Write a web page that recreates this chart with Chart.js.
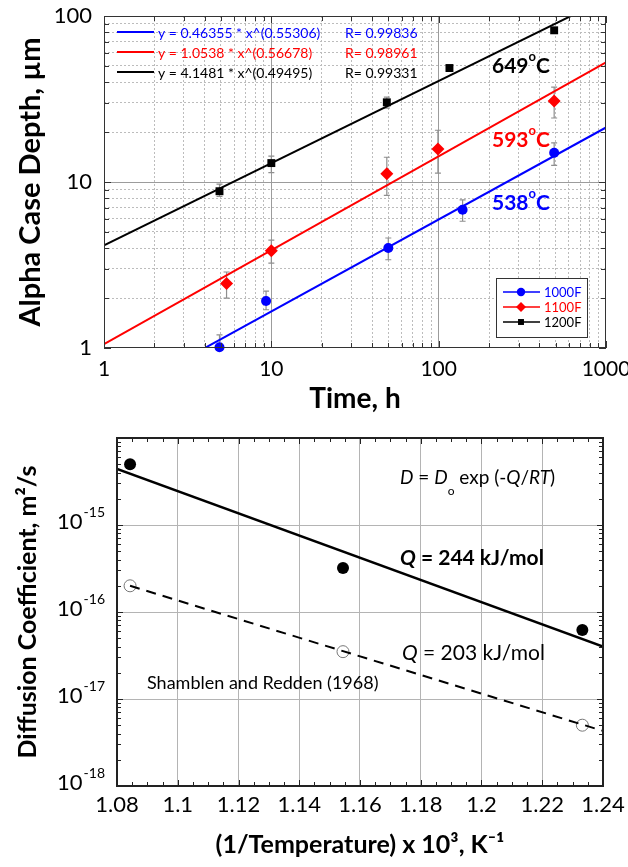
<!DOCTYPE html>
<html>
<head>
<meta charset="utf-8">
<title>Alpha case depth and diffusion coefficient</title>
<script src="https://cdn.jsdelivr.net/npm/chart.js@4.4.1/dist/chart.umd.min.js"></script>
<style>
  body { margin: 0; background: #fff; }
  canvas { display: block; }
</style>
</head>
<body>
<canvas id="depth-chart" width="628" height="420"></canvas>
<canvas id="diff-chart" width="628" height="447"></canvas>
<script>
// ---- top chart: alpha case depth (um) vs time (h)
var seriesNames = ['1000F', '1100F', '1200F'];
var tempNames = ['538', '593', '649'];
var seriesColors = ['#0000ff', '#ff0000', '#000000'];

var time1000 = [4.9, 9.3, 50, 139, 490];
var depth1000 = [1.01, 1.92, 4.0, 6.8, 15.0];
var hi1000 = [1.2, 2.2, 4.6, 7.8, 17.2];
var lo1000 = [0.85, 1.7, 3.4, 5.8, 12.6];

var time1100 = [5.4, 10, 49, 99, 490];
var depth1100 = [2.45, 3.85, 11.2, 15.8, 30.8];
var hi1100 = [2.87, 4.47, 14.1, 20.5, 37.3];
var lo1100 = [2.0, 3.25, 8.3, 11.3, 24.3];

var time1200 = [4.9, 10, 49, 116, 490];
var depth1200 = [8.8, 13.0, 30.2, 48.6, 82];
var hi1200 = [9.7, 14.3, 32.5, null, null];
var lo1200 = [8.2, 11.4, 27.9, null, null];

var fitTime = [1, 1000];
var fit1000 = [0.4636, 21.3];
var fit1100 = [1.054, 52.6];
var fit1200 = [4.148, 127];
var fitEquations = ['y = 0.46355 * x^(0.55306)', 'y = 1.0538 * x^(0.56678)', 'y = 4.1481 * x^(0.49495)'];
var fitR = ['R= 0.99836', 'R= 0.98961', 'R= 0.99331'];

var timeTickValues = [1, 10, 100, 1000];
var timeTickLabels = ['1', '10', '100', '1000'];
var depthTickValues = [1, 10, 100];
var depthTickLabels = ['1', '10', '100'];

// ---- bottom chart: diffusion coefficient vs 1000/T
var invTemp = [1.0843, 1.1544, 1.2332];
var diffThisWork = [5.0e-15, 3.2e-16, 6.2e-17];
var diffShamblen = [2.0e-16, 3.5e-17, 5.0e-18];
var fitThisX = [1.08, 1.24];
var fitThisY = [4.4e-15, 4.0e-17];
var fitShamX = [1.0843, 1.24];
var fitShamY = [2.0e-16, 4.3e-18];

var invTickValues = [1.08, 1.1, 1.12, 1.14, 1.16, 1.18, 1.2, 1.22, 1.24];
var invTickLabels = ['1.08', '1.1', '1.12', '1.14', '1.16', '1.18', '1.2', '1.22', '1.24'];
var diffTickValues = [1e-18, 1e-17, 1e-16, 1e-15];
var diffTickExps = ['-18', '-17', '-16', '-15'];

var FONT = "Lato, 'Open Sans', sans-serif";
Chart.defaults.font.family = FONT;
Chart.defaults.color = '#000';

function pts(xs, ys) {
  return xs.map(function (x, i) { return { x: x, y: ys[i] }; });
}
function near(a, b) { return Math.abs(a - b) < Math.abs(b) * 1e-6; }
function isDecade(v) {
  var l = Math.log10(v);
  return Math.abs(l - Math.round(l)) < 1e-6;
}
function labelFor(values, labels, v) {
  for (var i = 0; i < values.length; i++) if (near(v, values[i])) return labels[i];
  return '';
}
function logTicks(min, max) {
  var out = [];
  var e0 = Math.round(Math.log10(min)), e1 = Math.round(Math.log10(max));
  for (var e = e0; e < e1; e++) {
    for (var m = 1; m < 10; m++) out.push({ value: m * Math.pow(10, e) });
  }
  out.push({ value: max });
  return out;
}
function linTicks(min, max, step) {
  var out = [];
  var n = Math.round((max - min) / step);
  for (var i = 0; i <= n; i++) out.push({ value: +(min + i * step).toFixed(4) });
  return out;
}
function gridColor(major, minor, isMajor) {
  return function (c) {
    if (!c.tick) return 'rgba(0,0,0,0)';
    var n = c.scale.ticks.length;
    if (c.index === 0 || c.index === n - 1) return 'rgba(0,0,0,0)';
    return isMajor(c.tick.value) ? major : minor;
  };
}
function inwardTicks(chart, len, color, isMajX, isMajY) {
  var a = chart.chartArea, ctx = chart.ctx;
  var xs = chart.scales.x, ys = chart.scales.y;
  ctx.save();
  ctx.strokeStyle = color;
  ctx.lineWidth = 1;
  ctx.beginPath();
  xs.ticks.forEach(function (t) {
    var p = Math.round(xs.getPixelForValue(t.value)) + 0.5;
    var l = isMajX(t.value) ? len + 2 : len;
    ctx.moveTo(p, a.bottom); ctx.lineTo(p, a.bottom - l);
    ctx.moveTo(p, a.top); ctx.lineTo(p, a.top + l);
  });
  ys.ticks.forEach(function (t) {
    var p = Math.round(ys.getPixelForValue(t.value)) + 0.5;
    var l = isDecade(t.value) && isMajY(t.value) ? len + 2 : len;
    ctx.moveTo(a.left, p); ctx.lineTo(a.left + l, p);
    ctx.moveTo(a.right, p); ctx.lineTo(a.right - l, p);
  });
  ctx.stroke();
  ctx.restore();
}
function drawRuns(ctx, x, y, runs, color) {
  ctx.fillStyle = color;
  ctx.textBaseline = 'middle';
  ctx.textAlign = 'left';
  runs.forEach(function (r) {
    ctx.font = r.font;
    ctx.fillText(r.t, x, y + (r.dy || 0));
    x += ctx.measureText(r.t).width + (r.gap || 0);
  });
  return x;
}
function marker(ctx, style, x, y, r, color) {
  ctx.fillStyle = color;
  ctx.beginPath();
  if (style === 'circle') {
    ctx.arc(x, y, r, 0, Math.PI * 2);
  } else if (style === 'rectRot') {
    ctx.moveTo(x, y - r); ctx.lineTo(x + r, y); ctx.lineTo(x, y + r); ctx.lineTo(x - r, y);
    ctx.closePath();
  } else {
    var h = r * Math.SQRT1_2;
    ctx.rect(x - h, y - h, 2 * h, 2 * h);
  }
  ctx.fill();
}

// ---------------- top chart ----------------
var pointStyles = ['circle', 'rectRot', 'rect'];
var pointRadii = [5, 6.5, 5.6];
var errSets = [
  { x: time1000, hi: hi1000, lo: lo1000 },
  { x: time1100, hi: hi1100, lo: lo1100 },
  { x: time1200, hi: hi1200, lo: lo1200 }
];

var errorBars = {
  id: 'errorBars',
  beforeDatasetsDraw: function (chart) {
    var ctx = chart.ctx, a = chart.chartArea;
    var xs = chart.scales.x, ys = chart.scales.y;
    ctx.save();
    ctx.beginPath();
    ctx.rect(a.left, a.top, a.right - a.left, a.bottom - a.top);
    ctx.clip();
    ctx.strokeStyle = '#8f8f8f';
    ctx.lineWidth = 1.2;
    errSets.forEach(function (s) {
      s.x.forEach(function (xv, i) {
        if (s.hi[i] == null) return;
        var px = xs.getPixelForValue(xv);
        var y1 = ys.getPixelForValue(s.hi[i]);
        var y2 = ys.getPixelForValue(s.lo[i]);
        ctx.beginPath();
        ctx.moveTo(px, y1); ctx.lineTo(px, y2);
        ctx.moveTo(px - 3, y1); ctx.lineTo(px + 3, y1);
        ctx.moveTo(px - 3, y2); ctx.lineTo(px + 3, y2);
        ctx.stroke();
      });
    });
    ctx.restore();
  }
};

var depthDecor = {
  id: 'depthDecor',
  afterDraw: function (chart) {
    var ctx = chart.ctx, a = chart.chartArea;
    inwardTicks(chart, 5, '#333', isDecade, isDecade);
    ctx.save();
    ctx.strokeStyle = '#333';
    ctx.lineWidth = 1;
    ctx.strokeRect(a.left + 0.5, a.top + 0.5, a.right - a.left - 1, a.bottom - a.top - 1);

    // fit equations, top left
    for (var i = 0; i < 3; i++) {
      var y = a.top + 16 + i * 20;
      ctx.strokeStyle = seriesColors[i];
      ctx.lineWidth = 2;
      ctx.beginPath();
      ctx.moveTo(a.left + 13, y); ctx.lineTo(a.left + 50, y);
      ctx.stroke();
      drawRuns(ctx, a.left + 54, y + 1, [{ t: fitEquations[i], font: '14px ' + FONT }], seriesColors[i]);
      drawRuns(ctx, a.left + 241, y + 1, [{ t: fitR[i], font: '14px ' + FONT }], seriesColors[i]);
    }

    // temperature labels
    var tempY = [a.top + 187, a.top + 124, a.top + 50];
    for (var j = 0; j < 3; j++) {
      drawRuns(ctx, a.left + 388, tempY[j], [
        { t: tempNames[j], font: 'bold 21px ' + FONT },
        { t: 'o', font: 'bold 13px ' + FONT, dy: -9 },
        { t: 'C', font: 'bold 21px ' + FONT }
      ], seriesColors[j]);
    }

    // legend box, bottom right
    var bx = a.left + 392, by = a.top + 262, bw = 91, bh = 59;
    ctx.fillStyle = '#fff';
    ctx.fillRect(bx, by, bw, bh);
    ctx.strokeStyle = '#333';
    ctx.lineWidth = 1;
    ctx.strokeRect(bx + 0.5, by + 0.5, bw, bh);
    for (var k = 0; k < 3; k++) {
      var ly = by + 14 + k * 15;
      ctx.strokeStyle = seriesColors[k];
      ctx.lineWidth = 1.5;
      ctx.beginPath();
      ctx.moveTo(bx + 7, ly); ctx.lineTo(bx + 44, ly);
      ctx.stroke();
      marker(ctx, pointStyles[k], bx + 25, ly, k === 1 ? 5 : 4.2, seriesColors[k]);
      drawRuns(ctx, bx + 48, ly + 1, [{ t: seriesNames[k], font: '13px ' + FONT }], seriesColors[k]);
    }
    ctx.restore();
  }
};

var depthDatasets = [];
var fits = [fit1000, fit1100, fit1200];
fits.forEach(function (f, i) {
  depthDatasets.push({
    label: seriesNames[i] + ' fit',
    data: pts(fitTime, f),
    showLine: true,
    borderColor: seriesColors[i],
    borderWidth: 2,
    pointRadius: 0
  });
});
[[time1000, depth1000], [time1100, depth1100], [time1200, depth1200]].forEach(function (s, i) {
  depthDatasets.push({
    label: seriesNames[i],
    data: pts(s[0], s[1]),
    pointStyle: pointStyles[i],
    pointRadius: pointRadii[i],
    backgroundColor: seriesColors[i],
    borderColor: seriesColors[i],
    borderWidth: 0,
    clip: false
  });
});

new Chart(document.getElementById('depth-chart'), {
  type: 'scatter',
  data: { datasets: depthDatasets },
  options: {
    responsive: false,
    animation: false,
    layout: { padding: { left: 0, right: 22, top: 16, bottom: 0 } },
    plugins: { legend: { display: false }, tooltip: { enabled: false } },
    scales: {
      x: {
        type: 'logarithmic', min: 1, max: 1000,
        afterBuildTicks: function (s) { s.ticks = logTicks(1, 1000); },
        afterFit: function (s) { s.height = 72; s.paddingLeft = 0; s.paddingRight = 0; },
        ticks: {
          autoSkip: false, maxRotation: 0, padding: 9, font: { size: 21 },
          callback: function (v) { return labelFor(timeTickValues, timeTickLabels, v); }
        },
        grid: { drawTicks: false, lineWidth: 1, color: gridColor('#9c9c9c', '#bcbcbc', isDecade) },
        border: { display: false, dash: function (c) { return c.tick && !isDecade(c.tick.value) ? [2, 2] : []; } },
        title: { display: true, text: 'Time, h', font: { size: 28, weight: 'bold' }, padding: { top: 0, bottom: 4 } }
      },
      y: {
        type: 'logarithmic', min: 1, max: 100,
        afterBuildTicks: function (s) { s.ticks = logTicks(1, 100); },
        afterFit: function (s) { s.width = 104; s.paddingTop = 0; s.paddingBottom = 0; },
        ticks: {
          autoSkip: false, padding: 12, font: { size: 22 },
          callback: function (v) { return labelFor(depthTickValues, depthTickLabels, v); }
        },
        grid: { drawTicks: false, lineWidth: 1, color: gridColor('#9c9c9c', '#bcbcbc', isDecade) },
        border: { display: false, dash: function (c) { return c.tick && !isDecade(c.tick.value) ? [2, 2] : []; } },
        title: { display: true, text: 'Alpha Case Depth, \u00b5m', font: { size: 29, weight: 'bold' }, padding: { top: 13, bottom: 0 } }
      }
    }
  },
  plugins: [errorBars, depthDecor]
});

// ---------------- bottom chart ----------------
function isInvMajor(v) {
  return invTickValues.some(function (t) { return Math.abs(t - v) < 1e-6; });
}

var diffDecor = {
  id: 'diffDecor',
  afterDraw: function (chart) {
    var ctx = chart.ctx, a = chart.chartArea, ys = chart.scales.y;
    inwardTicks(chart, 4, '#222', isInvMajor, isDecade);
    ctx.save();
    ctx.strokeStyle = '#222';
    ctx.lineWidth = 2;
    ctx.strokeRect(a.left, a.top, a.right - a.left, a.bottom - a.top);

    // y tick labels with superscript exponents
    ctx.fillStyle = '#000';
    ctx.textBaseline = 'middle';
    ctx.textAlign = 'right';
    diffTickValues.forEach(function (v, i) {
      var py = ys.getPixelForValue(v);
      ctx.font = '14px ' + FONT;
      var ew = ctx.measureText(diffTickExps[i]).width;
      ctx.fillText(diffTickExps[i], a.left - 12, py - 13);
      ctx.font = '22px ' + FONT;
      ctx.fillText('10', a.left - 13 - ew, py - 3);
    });

    var it = 'italic 19px ' + FONT, rg = '19px ' + FONT;
    drawRuns(ctx, a.left + 283, a.top + 40, [
      { t: 'D', font: it }, { t: ' = ', font: rg }, { t: 'D', font: it },
      { t: 'o', font: '12px ' + FONT, dy: 13 }, { t: ' exp (-', font: rg },
      { t: 'Q', font: it }, { t: '/', font: rg }, { t: 'RT', font: it }, { t: ')', font: rg }
    ], '#000');
    drawRuns(ctx, a.left + 283, a.top + 120, [
      { t: 'Q', font: 'italic bold 21px ' + FONT }, { t: ' = 244 kJ/mol', font: 'bold 21px ' + FONT }
    ], '#000');
    drawRuns(ctx, a.left + 285, a.top + 215, [
      { t: 'Q', font: 'italic 21px ' + FONT }, { t: ' = 203 kJ/mol', font: '21px ' + FONT }
    ], '#000');
    drawRuns(ctx, a.left + 30, a.top + 245, [
      { t: 'Shamblen and Redden (1968)', font: '18px ' + FONT }
    ], '#000');
    ctx.restore();
  }
};

new Chart(document.getElementById('diff-chart'), {
  type: 'scatter',
  data: {
    datasets: [
      {
        label: 'Q = 244 kJ/mol fit',
        data: pts(fitThisX, fitThisY),
        showLine: true, borderColor: '#000', borderWidth: 2.5, pointRadius: 0
      },
      {
        label: 'Shamblen and Redden (1968) fit',
        data: pts(fitShamX, fitShamY),
        showLine: true, borderColor: '#000', borderWidth: 2, borderDash: [10, 7], pointRadius: 0
      },
      {
        label: 'This work',
        data: pts(invTemp, diffThisWork),
        pointRadius: 6, backgroundColor: '#000', borderColor: '#000', borderWidth: 0, clip: false
      },
      {
        label: 'Shamblen and Redden (1968)',
        data: pts(invTemp, diffShamblen),
        pointRadius: 6, backgroundColor: 'rgba(0,0,0,0)', borderColor: '#777', borderWidth: 1, clip: false
      }
    ]
  },
  options: {
    responsive: false,
    animation: false,
    layout: { padding: { left: 0, right: 25, top: 18, bottom: 0 } },
    plugins: { legend: { display: false }, tooltip: { enabled: false } },
    scales: {
      x: {
        type: 'linear', min: 1.08, max: 1.24,
        afterBuildTicks: function (s) { s.ticks = linTicks(1.08, 1.24, 0.005); },
        afterFit: function (s) { s.height = 81; s.paddingLeft = 0; s.paddingRight = 0; },
        ticks: {
          autoSkip: false, maxRotation: 0, padding: 6, font: { size: 22 },
          callback: function (v) { return labelFor(invTickValues, invTickLabels, v); }
        },
        grid: { drawTicks: false, lineWidth: 1, color: gridColor('#b4b4b4', 'rgba(0,0,0,0)', isInvMajor) },
        border: { display: false },
        title: { display: true, text: '(1/Temperature) x 10\u00b3, K\u207b\u00b9', font: { size: 25, weight: 'bold' }, padding: { top: 0, bottom: 7 } }
      },
      y: {
        type: 'logarithmic', min: 1e-18, max: 1e-14,
        afterBuildTicks: function (s) { s.ticks = logTicks(1e-18, 1e-14); },
        afterFit: function (s) { s.width = 117; s.paddingTop = 0; s.paddingBottom = 0; },
        ticks: { autoSkip: false, callback: function () { return ''; } },
        grid: { drawTicks: false, lineWidth: 1, color: gridColor('#b4b4b4', 'rgba(0,0,0,0)', isDecade) },
        border: { display: false },
        title: { display: true, text: 'Diffusion Coefficient, m\u00b2/s', font: { size: 25, weight: 'bold' }, padding: { top: 13, bottom: 0 } }
      }
    }
  },
  plugins: [diffDecor]
});
</script>
</body>
</html>
